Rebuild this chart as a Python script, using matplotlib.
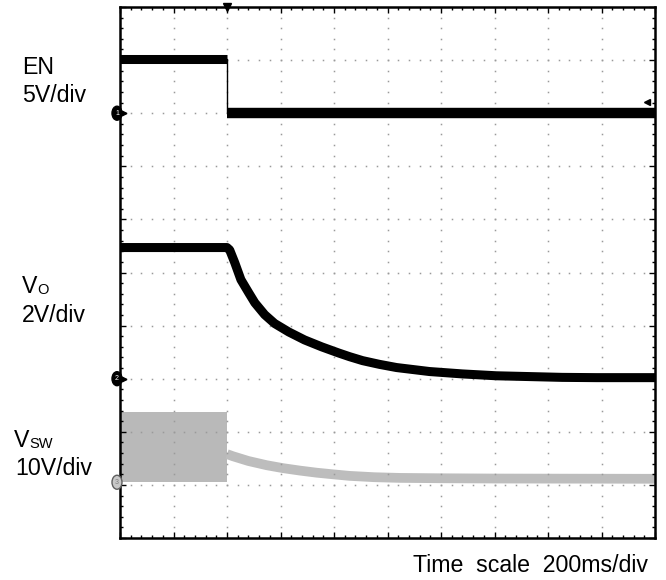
import numpy as np
import matplotlib.pyplot as plt
from matplotlib.patches import Ellipse
from matplotlib.transforms import blended_transform_factory

plt.rcParams['font.family'] = ['Liberation Sans', 'DejaVu Sans']

# time axis in ms (200 ms/div, 10 div)
en_t = [0, 400, 400, 2000]
en_v = [5.15, 5.15, 0.0, 0.0]

vo_t = [0, 400, 410, 429, 452, 481, 504, 541, 578, 631, 690, 754, 817, 858,
        907, 970, 1034, 1157, 1280, 1407, 1530, 1653, 1780, 2000]
vo_v = [4.94, 4.94, 4.85, 4.37, 3.73, 3.24, 2.86, 2.41, 2.08, 1.76, 1.46, 1.20, 0.97, 0.83,
        0.68, 0.54, 0.42, 0.27, 0.18, 0.11, 0.08, 0.05, 0.04, 0.04]

sw_t = [0, 400]
sw_hi = [13.3, 13.3]
sw_lo = [0.0, 0.0]

vsw_t = [400, 422, 480, 549, 610, 672, 735, 795, 858, 950, 1045, 1200, 1400, 2000]
vsw_v = [5.3, 4.9, 4.0, 3.2, 2.65, 2.2, 1.8, 1.5, 1.2, 0.95, 0.82, 0.75, 0.7, 0.65]

# channel scale (V/div) and ground position (div from bottom)
en_scale, en_gnd = 5.0, 8.0
vo_scale, vo_gnd = 2.0, 3.0
sw_scale, sw_gnd = 10.0, 1.05


def to_div(v, scale, gnd):
    return gnd + np.asarray(v) / scale


W, H = 666, 580
fig = plt.figure(figsize=(W / 100, H / 100), dpi=100)
ax = fig.add_axes([120 / W, 1 - 538 / H, 535 / W, 531 / H])
ax.set_xlim(0, 2000)
ax.set_ylim(0, 10)

# dotted graticule
dx = np.arange(0, 2000.1, 40)
dy = np.arange(0, 10.01, 0.2)
for k in range(1, 10):
    ax.plot(dx, np.full_like(dx, k, dtype=float), ls='none', marker='s', ms=1.1,
            mew=0, color='#9a9a9a', zorder=2)
    ax.plot(np.full_like(dy, k * 200), dy, ls='none', marker='s', ms=1.1,
            mew=0, color='#9a9a9a', zorder=2)

# VSW (grey)
ax.fill_between(sw_t, to_div(sw_lo, sw_scale, sw_gnd), to_div(sw_hi, sw_scale, sw_gnd),
                color='#b9b9b9', lw=0, zorder=1)
ax.plot(vsw_t, to_div(vsw_v, sw_scale, sw_gnd), color='#bdbdbd', lw=7,
        solid_capstyle='butt', solid_joinstyle='round', zorder=1)

# EN
en_y = to_div(en_v, en_scale, en_gnd)
ax.plot(en_t, en_y, color='black', lw=1, zorder=3)
ax.plot(en_t[:2], en_y[:2], color='black', lw=6.5, solid_capstyle='butt', zorder=3)
ax.plot(en_t[2:], en_y[2:], color='black', lw=7.5, solid_capstyle='butt', zorder=3)

# VO
ax.plot(vo_t, to_div(vo_v, vo_scale, vo_gnd), color='black', lw=6.5,
        solid_capstyle='butt', solid_joinstyle='round', zorder=3)

# frame and ticks
for s in ax.spines.values():
    s.set_linewidth(1.8)
ax.set_xticks(np.arange(0, 2001, 200))
ax.set_xticks(np.arange(0, 2001, 40), minor=True)
ax.set_yticks(np.arange(0, 10.01, 1))
ax.set_yticks(np.arange(0, 10.01, 0.2), minor=True)
ax.tick_params(which='both', direction='in', top=True, right=True,
               labelbottom=False, labelleft=False, width=1)
ax.tick_params(which='major', length=4)
ax.tick_params(which='minor', length=2.5)

# channel ground markers
tr = blended_transform_factory(ax.transAxes, ax.transData)
ex = -3 / 535
for gnd, fc, ec, lab in [(en_gnd, 'black', 'black', '1'),
                         (vo_gnd, 'black', 'black', '2'),
                         (sw_gnd, '#c8c8c8', '#606060', '3')]:
    ax.add_patch(Ellipse((ex, gnd), 10 / 535, 1.4 / 5.31, transform=tr,
                         fc=fc, ec=ec, lw=1, clip_on=False, zorder=5))
    ax.text(ex, gnd, lab, transform=tr, ha='center', va='center', fontsize=5,
            color='white' if fc == 'black' else '#808080', zorder=6, clip_on=False)
    if fc == 'black':
        ax.plot([4 / 535], [gnd], transform=tr, marker='>', ms=3.5, color='black',
                clip_on=False, zorder=6)

# trigger position and level markers
ax.plot([400], [1.0], transform=blended_transform_factory(ax.transData, ax.transAxes),
        marker='v', ms=6, color='black', clip_on=False, zorder=6)
ax.plot([1 - 8 / 535], [8.21], transform=tr, marker='<', ms=4, color='black',
        clip_on=False, zorder=6)

# labels
fs = 16.7


def put(x, y, s, size=fs):
    fig.text(x / W, 1 - y / H, s, fontsize=size, va='baseline', ha='left')


put(22, 74, 'EN')
put(22, 102, '5V/div')
put(22, 293, 'V')
put(37, 294, 'O', 10.5)
put(22, 322, '2V/div')
put(14, 447, 'V')
put(29, 448, 'SW', 10.5)
put(15, 475, '10V/div')
put(413, 572, 'Time  scale  200ms/div')

fig.savefig('out.png', dpi=100)
